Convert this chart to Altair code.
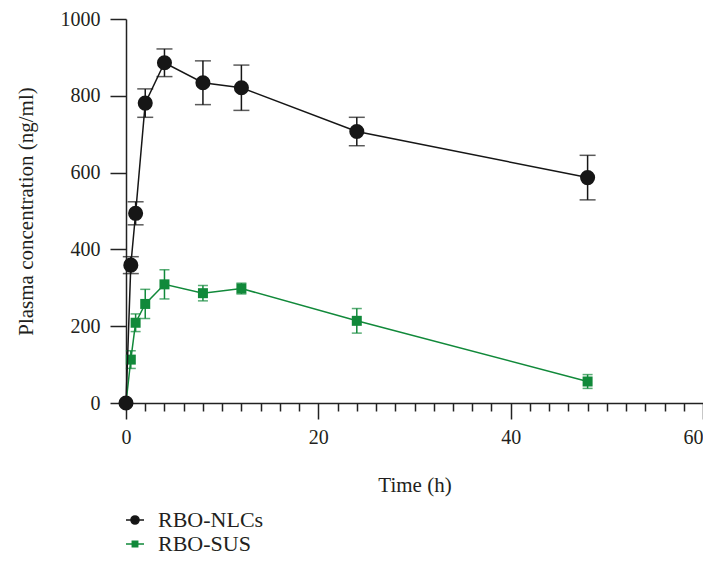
import altair as alt
import pandas as pd

# ---- data ----
times = [0, 0.5, 1, 2, 4, 8, 12, 24, 48]
series_names = ["RBO-NLCs", "RBO-SUS"]
nlc_mean = [0, 359, 494, 781, 886, 834, 821, 707, 587]
nlc_sd = [0, 22, 30, 37, 36, 57, 59, 37, 58]
sus_mean = [0, 113, 209, 258, 309, 286, 298, 214, 56]
sus_sd = [0, 23, 23, 38, 38, 20, 14, 32, 18]
y_ticks = [0, 200, 400, 600, 800, 1000]
x_ticks = list(range(0, 61, 2))

colors = {"RBO-NLCs": "#161616", "RBO-SUS": "#11893a"}

rows = []
for name, means, sds in [("RBO-NLCs", nlc_mean, nlc_sd), ("RBO-SUS", sus_mean, sus_sd)]:
    for t, m, s in zip(times, means, sds):
        rows.append({"series": name, "time": t, "mean": m, "lo": m - s, "hi": m + s, "sd": s})
df = pd.DataFrame(rows)

FONT = "Liberation Serif"
TXT = "#231f20"
xscale = alt.Scale(domain=[0, 60], nice=False, zero=False)
yscale = alt.Scale(domain=[0, 1000], nice=False)

xaxis = alt.Axis(
    values=x_ticks, format="d",
    tickSize={"condition": {"test": "datum.value % 20 === 0", "value": 16}, "value": 8},
    labelExpr="datum.value % 20 === 0 ? datum.label : ''",
    labelAlign={"condition": {"test": "datum.value >= 60", "value": "right"}, "value": "center"},
    labelOverlap=False, labelFlush=False,
    tickWidth=1.5, tickColor="#222", domainColor="#222", domainWidth=1.5,
    labelFont=FONT, labelFontSize=20, labelColor=TXT, labelPadding=8,
    titleFont=FONT, titleFontSize=21, titleFontWeight="normal", titleColor=TXT,
    titlePadding=27, grid=False,
)
yaxis = alt.Axis(
    values=y_ticks, format="d", tickSize=16, tickWidth=1.5, tickColor="#222",
    domainColor="#222", domainWidth=1.5, labelFlush=False,
    labelFont=FONT, labelFontSize=20, labelColor=TXT, labelPadding=10,
    titleFont=FONT, titleFontSize=21, titleFontWeight="normal", titleColor=TXT,
    titlePadding=24, grid=False,
)

X = alt.X("time:Q", scale=xscale, axis=xaxis, title="Time (h)")
Y_TITLE = "Plasma concentration (ng/ml)"


def series_layers(name, shape, size, cap):
    c = colors[name]
    base = alt.Chart(df).transform_filter(alt.datum.series == name)
    line = base.mark_line(color=c, strokeWidth=1.5).encode(
        x=X, y=alt.Y("mean:Q", scale=yscale, axis=yaxis, title=Y_TITLE)
    )
    err = base.transform_filter(alt.datum.sd > 0).mark_errorbar(
        ticks=True, size=cap, thickness=1.5, color=c
    ).encode(
        x=X,
        y=alt.Y("lo:Q", scale=yscale, axis=yaxis, title=Y_TITLE),
        y2="hi:Q",
    )
    pts = base.mark_point(shape=shape, filled=True, size=size, color=c, opacity=1).encode(
        x=X, y=alt.Y("mean:Q", scale=yscale, axis=yaxis, title=Y_TITLE)
    )
    return [line, err, pts]


circle_path = "M-1,0L1,0M-0.45,0A0.45,0.45,0,1,1,0.45,0A0.45,0.45,0,1,1,-0.45,0Z"
square_path = "M-1,0L1,0M-0.3,-0.3L0.3,-0.3L0.3,0.3L-0.3,0.3Z"

leg = alt.Legend(
    orient="none", legendX=-2, legendY=490, title=None,
    labelFont=FONT, labelFontSize=22, labelColor=TXT, labelOffset=12,
    symbolSize=324, symbolStrokeWidth=1.5, symbolOpacity=1,
    rowPadding=2, padding=0,
)
cscale = alt.Scale(domain=series_names, range=[colors[n] for n in series_names])
legend_layer = alt.Chart(df).transform_filter("false").mark_point(filled=True, opacity=1).encode(
    fill=alt.Fill("series:N", scale=cscale, legend=leg),
    stroke=alt.Stroke("series:N", scale=cscale, legend=leg),
    shape=alt.Shape("series:N", scale=alt.Scale(domain=series_names, range=[circle_path, square_path]), legend=leg),
)

layers = series_layers("RBO-SUS", "square", 100, 10) + series_layers("RBO-NLCs", "circle", 227, 16) + [legend_layer]

chart = alt.layer(*layers).properties(
    width=577, height=384,
    autosize=alt.AutoSizeParams(type="none"),
    padding={"left": 118, "top": 11, "right": 0, "bottom": 154},
    background="white",
).configure_view(stroke="transparent")

chart.save("out.html", embed_options={"renderer": "svg", "actions": False})
